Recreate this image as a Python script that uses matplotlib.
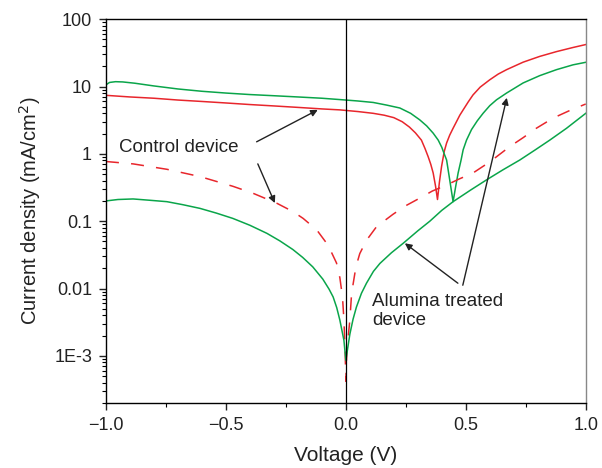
import numpy as np
import matplotlib
matplotlib.use('Agg')
import matplotlib.pyplot as plt
from matplotlib.ticker import FixedLocator, FixedFormatter, LogLocator, NullFormatter, MultipleLocator

plt.rcParams['font.family'] = ['Liberation Sans', 'DejaVu Sans']

# control device, light (red solid)
v_ctrl_light = [-1.0, -0.9, -0.8, -0.7, -0.6, -0.5, -0.4, -0.3, -0.2, -0.1, -0.025,
                0.05, 0.114, 0.16, 0.20, 0.235, 0.265, 0.29, 0.315, 0.33, 0.343,
                0.354, 0.364, 0.374, 0.382, 0.39, 0.399, 0.41, 0.42, 0.433, 0.447,
                0.46, 0.475, 0.489, 0.51, 0.53, 0.56, 0.60, 0.635, 0.67, 0.739,
                0.808, 0.878, 0.947, 1.0]
j_ctrl_light = [7.4, 7.0, 6.7, 6.3, 6.0, 5.7, 5.4, 5.15, 4.9, 4.65, 4.5,
                4.25, 4.0, 3.75, 3.45, 3.0, 2.5, 2.05, 1.6, 1.2, 0.91,
                0.7, 0.52, 0.33, 0.21, 0.38, 0.65, 1.08, 1.45, 1.9, 2.4,
                2.95, 3.75, 4.5, 5.9, 7.5, 9.8, 12.6, 15.3, 17.8, 23.0,
                28.0, 33.0, 38.0, 42.0]

# alumina treated device, light (green solid)
v_alu_light = [-1.0, -0.985, -0.96, -0.93, -0.88, -0.8, -0.7, -0.6, -0.5, -0.4, -0.3,
               -0.2, -0.1, -0.025, 0.05, 0.114, 0.17, 0.225, 0.27, 0.308, 0.337,
               0.364, 0.385, 0.40, 0.41, 0.42, 0.433, 0.447, 0.458, 0.468, 0.48,
               0.489, 0.503, 0.524, 0.548, 0.572, 0.60, 0.628, 0.67, 0.739, 0.808,
               0.878, 0.947, 1.0]
j_alu_light = [10.6, 11.5, 11.8, 11.7, 11.2, 10.2, 9.2, 8.5, 8.0, 7.6, 7.3,
               7.0, 6.7, 6.4, 6.1, 5.8, 5.3, 4.8, 4.0, 3.2, 2.6,
               2.03, 1.6, 1.25, 1.0, 0.81, 0.41, 0.195, 0.33, 0.52, 0.8,
               1.15, 1.6, 2.3, 3.1, 4.0, 5.2, 6.35, 8.0, 11.3, 14.5,
               17.8, 21.0, 22.9]

# control device, dark (red dashed)
v_ctrl_dark = [-1.0, -0.887, -0.746, -0.608, -0.471, -0.387, -0.288, -0.219, -0.178,
               -0.121, -0.074, -0.039, -0.025, -0.014, -0.008, -0.003, 0.0, 0.004,
               0.0167, 0.024, 0.042, 0.058, 0.086, 0.128, 0.197, 0.25, 0.308, 0.36,
               0.42, 0.47, 0.53, 0.60, 0.683, 0.74, 0.794, 0.864, 0.933, 1.0]
j_ctrl_dark = [0.77, 0.71, 0.59, 0.46, 0.33, 0.26, 0.185, 0.138, 0.11,
               0.074, 0.044, 0.024, 0.0145, 0.0075, 0.0034, 0.0012, 0.00042, 0.0012,
               0.0034, 0.0085, 0.021, 0.033, 0.052, 0.083, 0.127, 0.17, 0.22, 0.28,
               0.345, 0.42, 0.52, 0.76, 1.28, 1.75, 2.4, 3.4, 4.4, 5.5]

# alumina treated device, dark (green solid)
v_alu_dark = [-1.0, -0.95, -0.887, -0.82, -0.746, -0.68, -0.608, -0.54, -0.471, -0.4,
              -0.329, -0.275, -0.221, -0.18, -0.138, -0.096, -0.07, -0.053, -0.038,
              -0.025, -0.008, 0.0, 0.0167, 0.03, 0.044, 0.065, 0.086, 0.115, 0.142,
              0.19, 0.239, 0.30, 0.35, 0.40, 0.447, 0.52, 0.586, 0.655, 0.725, 0.79,
              0.85, 0.92, 0.96, 1.0]
j_alu_dark = [0.20, 0.21, 0.214, 0.205, 0.195, 0.176, 0.155, 0.132, 0.110, 0.087,
              0.066, 0.051, 0.038, 0.029, 0.021, 0.0138, 0.0098, 0.0075, 0.0052,
              0.0034, 0.0017, 0.00086, 0.0021, 0.0035, 0.0053, 0.0085, 0.012, 0.018, 0.0236,
              0.034, 0.047, 0.072, 0.10, 0.145, 0.195, 0.29, 0.41, 0.58, 0.81, 1.15,
              1.6, 2.4, 3.1, 4.0]

y_ticks = [1e-3, 1e-2, 1e-1, 1, 10, 100]
y_labels = ['1E-3', '0.01', '0.1', '1', '10', '100']

red = '#e8262c'
green = '#0aa54a'
ink = '#222222'

fig = plt.figure(figsize=(6.02, 4.68), dpi=100)
ax = fig.add_axes([0.176, 0.139, 0.797, 0.820])

ax.plot(v_ctrl_light, j_ctrl_light, color=red, lw=1.1)
ax.plot(v_alu_light, j_alu_light, color=green, lw=1.1)
ax.plot(v_ctrl_dark, j_ctrl_dark, color=red, lw=1.1, dashes=(8.5, 8.0))
ax.plot(v_alu_dark, j_alu_dark, color=green, lw=1.1)
ax.axvline(0, color='black', lw=0.9)

ax.set_yscale('log')
ax.set_xlim(-1.0, 1.0)
ax.set_ylim(2.0e-4, 100)

ax.xaxis.set_major_locator(MultipleLocator(0.5))
ax.xaxis.set_minor_locator(MultipleLocator(0.25))
ax.xaxis.set_major_formatter(plt.FuncFormatter(lambda v, p: f'{v:.1f}'.replace('-', '\u2212')))
ax.yaxis.set_major_locator(FixedLocator(y_ticks))
ax.yaxis.set_major_formatter(FixedFormatter(y_labels))
ax.yaxis.set_minor_locator(LogLocator(base=10, subs=np.arange(2, 10), numticks=20))
ax.yaxis.set_minor_formatter(NullFormatter())

ax.tick_params(which='major', direction='out', length=5, width=1, pad=5,
               labelsize=13, colors=ink)
ax.tick_params(which='minor', direction='out', length=3, width=0.8)
ax.tick_params(axis='y', which='both', right=False)
ax.tick_params(axis='x', which='both', top=False)
for s in ax.spines.values():
    s.set_linewidth(1.0)
ax.spines['right'].set_color('#888888')

ax.set_xlabel('Voltage (V)', fontsize=15, color=ink, labelpad=9)
ax.set_ylabel('Current density (mA/cm$^2$)', fontsize=14.5, color=ink, labelpad=8)

arrow = dict(arrowstyle='-|>', color=ink, lw=1.0, mutation_scale=10, shrinkA=0, shrinkB=0)
ax.text(-0.946, 1.23, 'Control device', fontsize=13.5, color=ink, va='center', ha='left')
ax.annotate('', xy=(-0.117, 4.5), xytext=(-0.372, 1.51), arrowprops=arrow)
ax.annotate('', xy=(-0.296, 0.186), xytext=(-0.367, 0.71), arrowprops=arrow)

ax.text(0.108, 0.0046, 'Alumina treated\ndevice', fontsize=13.5, color=ink,
        va='center', ha='left', linespacing=1.15)
ax.annotate('', xy=(0.246, 0.047), xytext=(0.467, 0.012), arrowprops=arrow)
ax.annotate('', xy=(0.671, 6.8), xytext=(0.4875, 0.0112), arrowprops=arrow)

fig.savefig('out.png', dpi=100)
